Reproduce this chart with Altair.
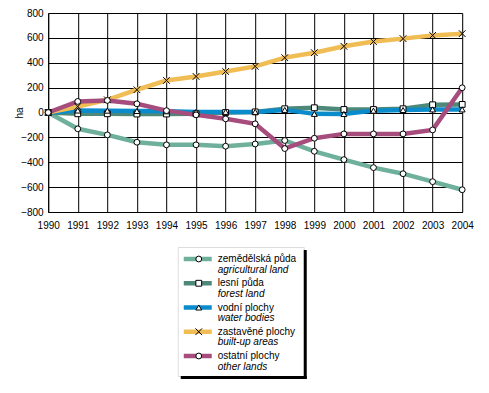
import altair as alt
import pandas as pd

years = list(range(1990, 2005))
series_cs = ["zemědělská půda", "lesní půda", "vodní plochy", "zastavěné plochy", "ostatní plochy"]
series_en = ["agricultural land", "forest land", "water bodies", "built-up areas", "other lands"]

agricultural = [0, -131, -180, -239, -260, -260, -271, -253, -225, -312, -379, -443, -492, -556, -621]
forest = [0, -10, -10, -12, -12, -10, 0, 5, 30, 38, 24, 24, 30, 62, 65]
water = [0, 16, 15, 12, 10, 5, 5, 5, 21, -11, -12, 15, 20, 25, 25]
built_up = [0, 48, 102, 183, 258, 290, 330, 371, 441, 481, 532, 570, 594, 620, 634]
other = [0, 89, 97, 70, 15, -19, -51, -91, -290, -207, -172, -172, -172, -140, 199]

y_ticks = [-800, -600, -400, -200, 0, 200, 400, 600, 800]

colors = ["#6fb09c", "#4d8878", "#0a8ccc", "#f0bd55", "#a64d7d"]
shapes = ["circle", "square", "triangle-up", "M-1.15,-1.15L1.15,1.15M-1.15,1.15L1.15,-1.15", "circle"]

FONT = "Liberation Sans"

rows = []
for i, (name, vals) in enumerate(zip(series_cs, [agricultural, forest, water, built_up, other])):
    for yr, v in zip(years, vals):
        rows.append({"rok": yr, "ha": v, "series": name, "ord": i})
df = pd.DataFrame(rows)

color_scale = alt.Scale(domain=series_cs, range=colors)
shape_scale = alt.Scale(domain=series_cs, range=shapes)

x_enc = alt.X(
    "rok:Q",
    scale=alt.Scale(domain=[1990, 2004], nice=False, zero=False),
    axis=alt.Axis(values=years, format="d", title=None, grid=True, gridColor="black",
                  gridOpacity=1, gridWidth=1, ticks=False, labelPadding=8, labelFlush=False,
                  domainColor="black", labelFontSize=10, labelColor="black", labelFont=FONT),
)
y_enc = alt.Y(
    "ha:Q",
    scale=alt.Scale(domain=[-800, 800], nice=False),
    axis=alt.Axis(values=y_ticks, format="d", title="ha", grid=True, gridColor="black",
                  gridOpacity=1, gridWidth=1, ticks=False, labelPadding=5,
                  domainColor="black", labelFontSize=10, labelColor="black", labelFont=FONT,
                  titleFont=FONT, titleFontSize=10, titleFontWeight="normal", titleColor="black",
                  titleX=-24),
)

base = alt.Chart(df).encode(x=x_enc, y=y_enc)
lines = base.mark_line(strokeWidth=4.5).encode(
    color=alt.Color("series:N", scale=color_scale, legend=None),
    order="rok:Q",
)
points = base.mark_point(fill="white", stroke="black", strokeWidth=1, size=34, opacity=1, fillOpacity=1).encode(
    shape=alt.Shape("series:N", scale=shape_scale, legend=None),
)
main = alt.layer(lines, points).properties(width=414, height=199)

# legend box
leg_df = pd.DataFrame({"series": series_cs, "en": series_en, "idx": list(range(5))})
ly = alt.Y("idx:Q", scale=alt.Scale(domain=[0, 4], range=[12, 109]), axis=None)
leg_line = alt.Chart(leg_df).mark_rule(strokeWidth=4.5).encode(
    x=alt.value(6), x2=alt.value(34), y=ly,
    color=alt.Color("series:N", scale=color_scale, legend=None))
leg_pt = alt.Chart(leg_df).mark_point(fill="white", stroke="black", strokeWidth=1, size=34, opacity=1).encode(
    x=alt.value(21), y=ly, shape=alt.Shape("series:N", scale=shape_scale, legend=None))
leg_cs = alt.Chart(leg_df).mark_text(align="left", baseline="middle", fontSize=10, font=FONT, color="black").encode(
    x=alt.value(40), y=ly, text="series:N")
leg_en = alt.Chart(leg_df).mark_text(align="left", baseline="middle", fontSize=10, font=FONT, color="black",
                                     fontStyle="italic", dy=10.5).encode(
    x=alt.value(40), y=ly, text="en:N")
one = pd.DataFrame({"a": [0]})
shadow_r = alt.Chart(one).mark_rect(color="black").encode(
    x=alt.value(126), x2=alt.value(129), y=alt.value(3), y2=alt.value(132))
shadow_b = alt.Chart(one).mark_rect(color="black").encode(
    x=alt.value(3), x2=alt.value(129), y=alt.value(129), y2=alt.value(132))
spacer = alt.Chart(one).mark_rect(color="white").encode(
    x=alt.value(130), x2=alt.value(166), y=alt.value(60), y2=alt.value(61))
legend = alt.layer(spacer, shadow_r, shadow_b, leg_line, leg_pt, leg_cs, leg_en).properties(width=126, height=129)

chart = alt.vconcat(main, legend, spacing=15, center=True).properties(
    padding={"left": 5, "top": -1, "right": 0, "bottom": 0}
).configure_view(stroke="black", strokeWidth=1).configure(background="white")

chart.save("out.html", embed_options={"renderer": "svg", "actions": False})
